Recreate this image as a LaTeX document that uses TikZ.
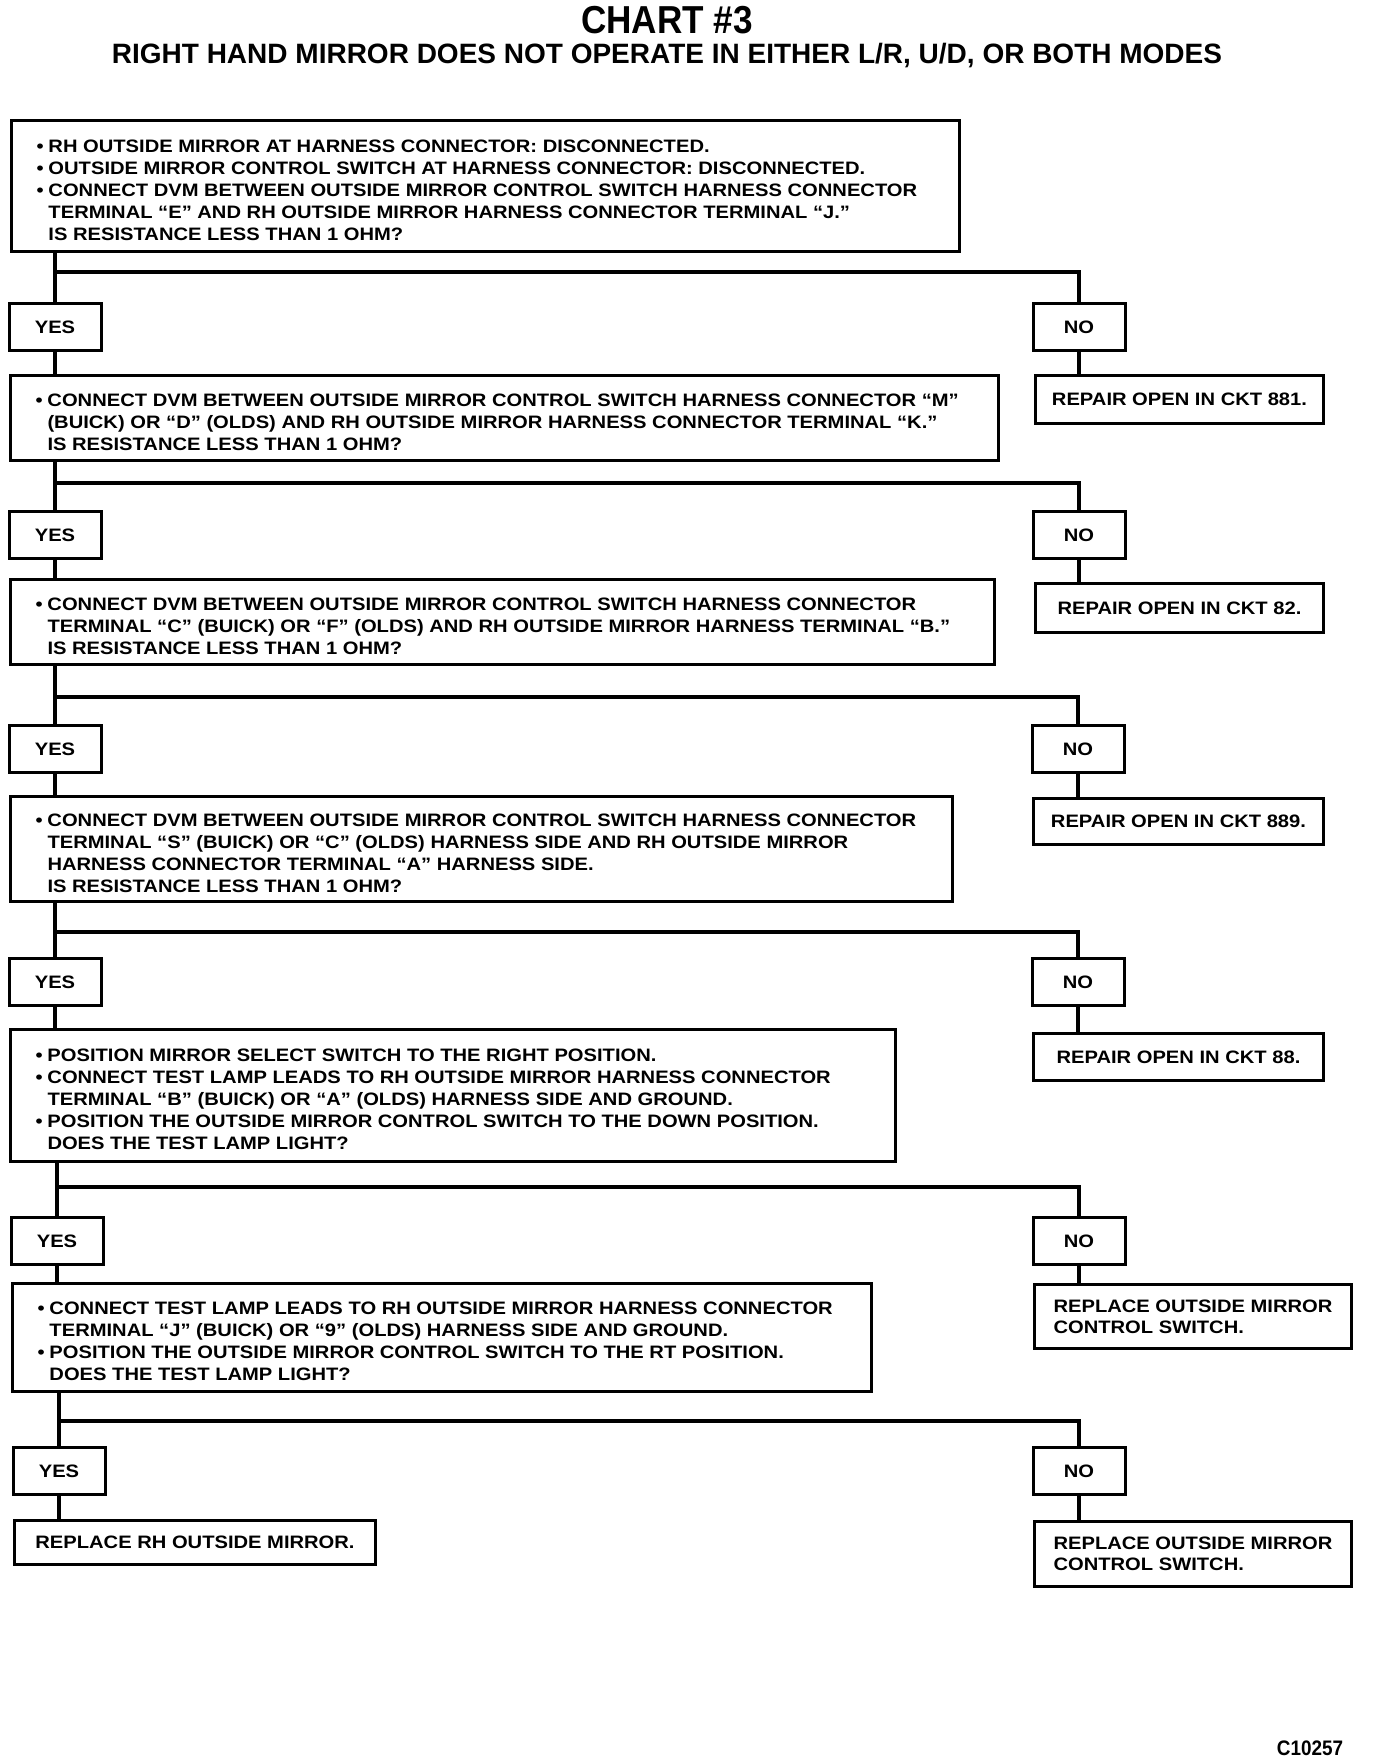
\documentclass[tikz,border=0pt]{standalone}
\usepackage{fontspec}
\setmainfont{Liberation Sans}
\newfontfamily\chartfont[FakeStretch=1.12]{Liberation Sans}
\newfontfamily\headfont[FakeStretch=0.9]{Liberation Sans}
\usepackage{tikz}

\newcommand{\itm}{\makebox[12pt][l]{\textbullet}}
\newcommand{\ind}{\makebox[12pt]{}}
\newcommand{\steps}[2]{\raisebox{-6pt}[\height][\depth]{\makebox[#1][l]{\begin{tabular}{@{}l@{}}#2\end{tabular}}}}

\begin{document}
\begin{tikzpicture}[x=1pt, y=-1pt,
    qbox/.style={draw, line width=3pt, anchor=north west, inner xsep=25pt, inner ysep=0pt,
      font=\chartfont\bfseries\fontsize{18}{22}\selectfont},
    fixbox/.style={draw, line width=3pt, anchor=north west, align=left, inner sep=0pt,
      font=\chartfont\bfseries\fontsize{18}{21}\selectfont},
    ansbox/.style={draw, line width=3pt, minimum width=92pt, minimum height=47pt, inner sep=0pt,
      font=\chartfont\bfseries\fontsize{18}{20}\selectfont},
    link/.style={line width=4.6pt}]
    \useasboundingbox (0,0) rectangle (1376,1762);

    \node[font=\headfont\bfseries\fontsize{39}{40}\selectfont] (title) at (667,20) {CHART \#3};
    \node[font=\bfseries\fontsize{28}{30}\selectfont] (subtitle) at (667,56)
      {RIGHT HAND MIRROR DOES NOT OPERATE IN EITHER L/R, U/D, OR BOTH MODES};

    % checks down the left side
    \node[qbox, minimum height=131pt] (q1) at (10,119) {\steps{898pt}{%
      \itm RH OUTSIDE MIRROR AT HARNESS CONNECTOR: DISCONNECTED.\\
      \itm OUTSIDE MIRROR CONTROL SWITCH AT HARNESS CONNECTOR: DISCONNECTED.\\
      \itm CONNECT DVM BETWEEN OUTSIDE MIRROR CONTROL SWITCH HARNESS CONNECTOR\\
      \ind TERMINAL “E” AND RH OUTSIDE MIRROR HARNESS CONNECTOR TERMINAL “J.”\\
      \ind IS RESISTANCE LESS THAN 1 OHM?}};
    \node[qbox, minimum height=85pt] (q2) at (9,374) {\steps{938pt}{%
      \itm CONNECT DVM BETWEEN OUTSIDE MIRROR CONTROL SWITCH HARNESS CONNECTOR “M”\\
      \ind (BUICK) OR “D” (OLDS) AND RH OUTSIDE MIRROR HARNESS CONNECTOR TERMINAL “K.”\\
      \ind IS RESISTANCE LESS THAN 1 OHM?}};
    \node[qbox, minimum height=85pt] (q3) at (9,578) {\steps{934pt}{%
      \itm CONNECT DVM BETWEEN OUTSIDE MIRROR CONTROL SWITCH HARNESS CONNECTOR\\
      \ind TERMINAL “C” (BUICK) OR “F” (OLDS) AND RH OUTSIDE MIRROR HARNESS TERMINAL “B.”\\
      \ind IS RESISTANCE LESS THAN 1 OHM?}};
    \node[qbox, minimum height=105pt] (q4) at (9,795) {\steps{892pt}{%
      \itm CONNECT DVM BETWEEN OUTSIDE MIRROR CONTROL SWITCH HARNESS CONNECTOR\\
      \ind TERMINAL “S” (BUICK) OR “C” (OLDS) HARNESS SIDE AND RH OUTSIDE MIRROR\\
      \ind HARNESS CONNECTOR TERMINAL “A” HARNESS SIDE.\\
      \ind IS RESISTANCE LESS THAN 1 OHM?}};
    \node[qbox, minimum height=132pt] (q5) at (9,1028) {\steps{835pt}{%
      \itm POSITION MIRROR SELECT SWITCH TO THE RIGHT POSITION.\\
      \itm CONNECT TEST LAMP LEADS TO RH OUTSIDE MIRROR HARNESS CONNECTOR\\
      \ind TERMINAL “B” (BUICK) OR “A” (OLDS) HARNESS SIDE AND GROUND.\\
      \itm POSITION THE OUTSIDE MIRROR CONTROL SWITCH TO THE DOWN POSITION.\\
      \ind DOES THE TEST LAMP LIGHT?}};
    \node[qbox, minimum height=108pt] (q6) at (11,1282) {\steps{809pt}{%
      \itm CONNECT TEST LAMP LEADS TO RH OUTSIDE MIRROR HARNESS CONNECTOR\\
      \ind TERMINAL “J” (BUICK) OR “9” (OLDS) HARNESS SIDE AND GROUND.\\
      \itm POSITION THE OUTSIDE MIRROR CONTROL SWITCH TO THE RT POSITION.\\
      \ind DOES THE TEST LAMP LIGHT?}};
    \node[fixbox, minimum width=361pt, minimum height=44pt] (done) at (13,1519) {REPLACE RH OUTSIDE MIRROR.};

    % yes / no
    \node[ansbox] (yes1) at (55,327) {YES};
    \node[ansbox] (no1) at (1079,327) {NO};
    \node[ansbox] (yes2) at (55,535) {YES};
    \node[ansbox] (no2) at (1079,535) {NO};
    \node[ansbox] (yes3) at (55,749) {YES};
    \node[ansbox] (no3) at (1078,749) {NO};
    \node[ansbox] (yes4) at (55,982) {YES};
    \node[ansbox] (no4) at (1078,982) {NO};
    \node[ansbox] (yes5) at (57,1241) {YES};
    \node[ansbox] (no5) at (1079,1241) {NO};
    \node[ansbox] (yes6) at (59,1471) {YES};
    \node[ansbox] (no6) at (1079,1471) {NO};

    % repairs on the right
    \node[fixbox, minimum width=288pt, minimum height=48pt] (fix1) at (1034,374) {REPAIR OPEN IN CKT 881.};
    \node[fixbox, minimum width=288pt, minimum height=49pt] (fix2) at (1034,582) {REPAIR OPEN IN CKT 82.};
    \node[fixbox, minimum width=290pt, minimum height=46pt] (fix3) at (1032,797) {REPAIR OPEN IN CKT 889.};
    \node[fixbox, minimum width=290pt, minimum height=47pt] (fix4) at (1032,1032) {REPAIR OPEN IN CKT 88.};
    \node[fixbox, minimum width=317pt, minimum height=64pt] (fix5) at (1033,1283) {REPLACE OUTSIDE MIRROR\\CONTROL SWITCH.};
    \node[fixbox, minimum width=317pt, minimum height=65pt] (fix6) at (1033,1520) {REPLACE OUTSIDE MIRROR\\CONTROL SWITCH.};

    \coordinate (b1) at (0,272);
    \coordinate (b2) at (0,483);
    \coordinate (b3) at (0,697);
    \coordinate (b4) at (0,932);
    \coordinate (b5) at (0,1187);
    \coordinate (b6) at (0,1421);

    \foreach \i/\nxt in {1/q2,2/q3,3/q4,4/q5,5/q6,6/done} {
      \draw[link] (q\i.south -| yes\i) -- (yes\i.north);
      \draw[link] (b\i -| yes\i) -| (no\i.north);
      \draw[link] (yes\i.south) -- (yes\i |- \nxt.north);
      \draw[link] (no\i.south) -- (no\i |- fix\i.north);
    }

    \node[font=\headfont\bfseries\fontsize{21}{22}\selectfont] (code) at (1310,1748) {C10257};
\end{tikzpicture}
\end{document}
